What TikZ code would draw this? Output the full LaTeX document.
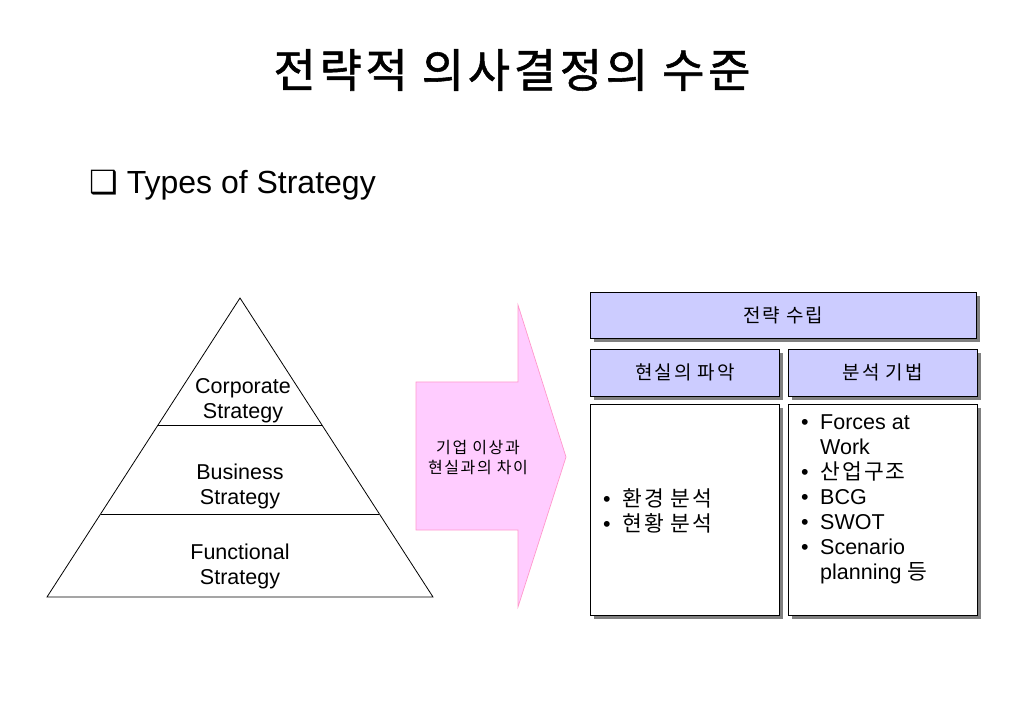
\documentclass[tikz,border=0pt]{standalone}
\usepackage{fontspec}
\setmainfont{Liberation Sans}
\newfontfamily\kr[LetterSpace=10]{Noto Sans CJK KR}
\newfontfamily\krtitle[LetterSpace=8,FakeBold=1.2]{Noto Sans CJK KR}
\newfontfamily\sym{DejaVu Sans}
\usetikzlibrary{
  positioning,
  calc,
  shadows
}
\definecolor{PlanLavender}{RGB}{204,204,255}
\definecolor{GapPink}{RGB}{255,204,255}
\definecolor{GapEdge}{RGB}{255,153,204}
\definecolor{ShadeGray}{RGB}{128,128,128}
\newcommand{\bul}[1]{\makebox[19pt][l]{\textbullet}#1}
\newcommand{\cont}[1]{\hspace*{19pt}#1}
\tikzset{
  titletext/.style={font=\krtitle\fontsize{46}{50}\selectfont, inner sep=0pt},
  subtitle/.style={font=\fontsize{32}{36}\selectfont, inner sep=0pt},
  pyramid/.style={draw=black, line width=0.8pt},
  lvl/.style={align=center, font=\fontsize{21.5}{25}\selectfont, inner sep=0pt},
  gaparrow/.style={draw=GapEdge, fill=GapPink, line width=0.7pt},
  gaptext/.style={align=center, font=\kr\fontsize{16}{20}\selectfont, inner sep=0pt},
  headbox/.style={
    draw=black,
    fill=PlanLavender,
    line width=0.8pt,
    inner sep=0pt,
    anchor=north west,
    font=\kr\fontsize{19}{24}\selectfont,
    drop shadow={shadow xshift=4pt, shadow yshift=-4pt, fill=ShadeGray, opacity=1}
  },
  bodybox/.style={headbox, fill=white},
  listtext/.style={align=left, font=\fontsize{21.5}{25}\selectfont, inner sep=0pt, anchor=west}
}
\begin{document}
\begin{tikzpicture}[x=1pt, y=-1pt]
  \useasboundingbox (0,0) rectangle (1023,708);

  \node[titletext] (title) at (512,70) {전략적 의사결정의 수준};
  \node[subtitle, anchor=west] (types) at (89,185) {{\sym ❑} Types of Strategy};

  % pyramid
  \coordinate (apex) at (240,298);
  \coordinate (baseL) at (47,597);
  \coordinate (baseR) at (433,597);
  \draw[pyramid] (apex) -- (baseL) -- (baseR) -- cycle;
  \draw[pyramid] ($(apex)!0.4247!(baseL)$) -- ($(apex)!0.4247!(baseR)$);
  \draw[pyramid] ($(apex)!0.7224!(baseL)$) -- ($(apex)!0.7224!(baseR)$);
  \node[lvl] (corp) at (243,401) {Corporate\\Strategy};
  \node[lvl] (bus) at (240,486) {Business\\Strategy};
  \node[lvl] (func) at (240,566) {Functional\\Strategy};

  % gap arrow
  \draw[gaparrow] (416,382) -- (518,382) -- (518,305) -- (566,457)
    -- (518,607) -- (518,530) -- (416,530) -- cycle;
  \node[gaptext] (gap) at (478,458) {{\kr 기업 이상과}\\{\kr 현실과의 차이}};

  % strategy boxes
  \node[headbox, minimum width=386, minimum height=46] (plan) at (590,292) {\raisebox{-2pt}{전략 수립}};
  \node[headbox, below=10pt of plan.south west, anchor=north west,
    minimum width=189, minimum height=47] (grasp) {\raisebox{-2pt}{현실의 파악}};
  \node[headbox, right=8pt of grasp, minimum width=189, minimum height=47] (method) {\raisebox{-2pt}{분석 기법}};
  \node[bodybox, below=7pt of grasp.south west, anchor=north west,
    minimum width=189, minimum height=211] (graspbody) {};
  \node[bodybox, right=8pt of graspbody, minimum width=189, minimum height=211] (methodbody) {};

  \node[listtext] (grasplist) at (603,510.5)
    {\bul{{\kr 환경 분석}}\\\bul{{\kr 현황 분석}}};
  \node[listtext] (methodlist) at (801,499.5)
    {\bul{Forces at}\\\cont{Work}\\\bul{{\kr 산업구조}}\\\bul{BCG}\\\bul{SWOT}\\\bul{Scenario}\\\cont{planning {\kr 등}}};
\end{tikzpicture}
\end{document}
